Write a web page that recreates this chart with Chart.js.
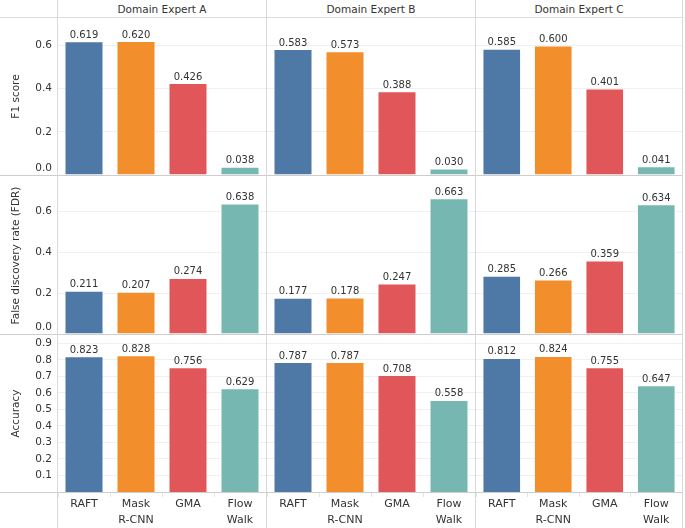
<!DOCTYPE html>
<html>
<head>
<meta charset="utf-8">
<script src="https://cdn.jsdelivr.net/npm/chart.js@4.4.1/dist/chart.umd.min.js"></script>
<style>
  body { margin: 0; background: #fff; }
  #wrap { position: relative; width: 685px; height: 528px; font-family: 'DejaVu Sans', sans-serif; }
  .panel { position: absolute; }
  .line { position: absolute; background: #d6d6d6; }
  .head { position: absolute; top: 0; height: 18px; line-height: 19px; text-align: center;
          font-size: 10.5px; color: #333; }
</style>
</head>
<body>
<div id="wrap"></div>
<script>
// categories and facets
const algorithms = [['RAFT'], ['Mask', 'R-CNN'], ['GMA'], ['Flow', 'Walk']];
const experts = ['Domain Expert A', 'Domain Expert B', 'Domain Expert C'];
const barColors = ['#4e79a7', '#f28e2b', '#e15759', '#76b7b2'];

// F1 score
const f1A = [0.619, 0.620, 0.426, 0.038];
const f1B = [0.583, 0.573, 0.388, 0.030];
const f1C = [0.585, 0.600, 0.401, 0.041];

// false discovery rate
const fdrA = [0.211, 0.207, 0.274, 0.638];
const fdrB = [0.177, 0.178, 0.247, 0.663];
const fdrC = [0.285, 0.266, 0.359, 0.634];

// accuracy
const accA = [0.823, 0.828, 0.756, 0.629];
const accB = [0.787, 0.787, 0.708, 0.558];
const accC = [0.812, 0.824, 0.755, 0.647];

// y tick labels per row
const f1Ticks = [0.0, 0.2, 0.4, 0.6];
const fdrTicks = [0.0, 0.2, 0.4, 0.6];
const accTicks = [0.1, 0.2, 0.3, 0.4, 0.5, 0.6, 0.7, 0.8, 0.9];

const rows = [
  { title: 'F1 score', max: 0.727, ticks: f1Ticks, data: [f1A, f1B, f1C] },
  { title: 'False discovery rate (FDR)', max: 0.767, ticks: fdrTicks, data: [fdrA, fdrB, fdrC] },
  { title: 'Accuracy', max: 0.951, ticks: accTicks, data: [accA, accB, accC] }
];

// layout of the facet grid
const colLeft = [58, 267, 476];
const colRight = [266, 475, 682];
const rowTop = [18, 177, 335];
const rowBottom = [175, 334, 492];
const axisW = 58;
const labelH = 36;
const FONT = "'DejaVu Sans', sans-serif";

const wrap = document.getElementById('wrap');

function addLine(x, y, w, h, color) {
  const d = document.createElement('div');
  d.className = 'line';
  d.style.left = x + 'px'; d.style.top = y + 'px';
  d.style.width = w + 'px'; d.style.height = h + 'px';
  if (color) d.style.background = color;
  wrap.appendChild(d);
}

// value labels above bars
const barValues = {
  id: 'barValues',
  afterDatasetsDraw(chart) {
    const ctx = chart.ctx;
    const meta = chart.getDatasetMeta(0);
    const vals = chart.data.datasets[0].data;
    ctx.save();
    ctx.font = '10px ' + FONT;
    ctx.fillStyle = '#333';
    ctx.textAlign = 'center';
    ctx.textBaseline = 'alphabetic';
    meta.data.forEach(function(bar, i) {
      ctx.fillText(vals[i].toFixed(3), bar.x, bar.y - 3.5);
    });
    ctx.restore();
  }
};

// y tick labels, kept inside the panel like the original
const yLabels = {
  id: 'yLabels',
  afterDraw(chart, args, opts) {
    if (!opts.show) return;
    const scale = chart.scales.y;
    const area = chart.chartArea;
    const ctx = chart.ctx;
    ctx.save();
    ctx.font = '10.5px ' + FONT;
    ctx.fillStyle = '#333';
    ctx.textAlign = 'right';
    ctx.textBaseline = 'middle';
    opts.ticks.forEach(function(v) {
      let y = scale.getPixelForValue(v);
      y = Math.max(area.top + 7, Math.min(area.bottom - 7, y));
      ctx.fillText(v.toFixed(1), area.left - 6, y);
    });
    ctx.restore();
  }
};

rows.forEach(function(row, r) {
  const lastRow = r === rows.length - 1;
  experts.forEach(function(expert, c) {
    const first = c === 0;
    const left = first ? 0 : colLeft[c];
    const width = colRight[c] - left;
    const top = rowTop[r];
    const height = rowBottom[r] - top + (lastRow ? labelH : 0);

    const box = document.createElement('div');
    box.className = 'panel';
    box.style.left = left + 'px'; box.style.top = top + 'px';
    box.style.width = width + 'px'; box.style.height = height + 'px';
    const canvas = document.createElement('canvas');
    box.appendChild(canvas);
    wrap.appendChild(box);

    new Chart(canvas.getContext('2d'), {
      type: 'bar',
      data: {
        labels: algorithms,
        datasets: [{
          data: row.data[c],
          backgroundColor: barColors,
          borderColor: 'rgba(255,255,255,0.45)',
          borderWidth: 1,
          categoryPercentage: 1.0,
          barPercentage: 0.75
        }]
      },
      options: {
        responsive: true,
        maintainAspectRatio: false,
        animation: false,
        layout: { padding: 0 },
        plugins: {
          legend: { display: false },
          tooltip: { enabled: false },
          yLabels: { show: first, ticks: row.ticks }
        },
        scales: {
          x: {
            display: lastRow,
            border: { display: false },
            grid: { offset: true, drawOnChartArea: false, drawTicks: true, tickLength: 5, color: '#e4e4e4' },
            ticks: {
              color: '#333',
              padding: -1,
              maxRotation: 0,
              autoSkip: false,
              font: { family: FONT, size: 11, lineHeight: 1.45 }
            },
            afterFit: function(scale) { if (lastRow) scale.height = labelH; }
          },
          y: {
            min: 0,
            max: row.max,
            border: { display: false },
            grid: { color: '#f0f0f0', drawTicks: false },
            ticks: { display: false },
            afterBuildTicks: function(scale) {
              scale.ticks = row.ticks.map(function(v) { return { value: v }; });
            },
            title: {
              display: first,
              text: row.title,
              color: '#333',
              font: { family: FONT, size: 10.5 },
              padding: { top: 10, bottom: 0 }
            },
            afterFit: function(scale) { scale.width = first ? axisW : 0; }
          }
        }
      },
      plugins: [barValues, yLabels]
    });
  });
});

// facet headers
experts.forEach(function(expert, c) {
  const h = document.createElement('div');
  h.className = 'head';
  h.style.left = colLeft[c] + 'px';
  h.style.width = (colRight[c] - colLeft[c]) + 'px';
  h.textContent = expert;
  wrap.appendChild(h);
});

// grid frame
addLine(0, 17, 683, 1, '#dedede');
addLine(0, 175, 683, 1, '#cdcdcd');
addLine(0, 334, 683, 1, '#cdcdcd');
addLine(0, 492, 683, 1, '#cdcdcd');
addLine(57, 0, 1, 528, '#d8d8d8');
addLine(266, 0, 1, 528, '#d8d8d8');
addLine(475, 0, 1, 528, '#d8d8d8');
addLine(682, 0, 1, 528, '#d8d8d8');
</script>
</body>
</html>
